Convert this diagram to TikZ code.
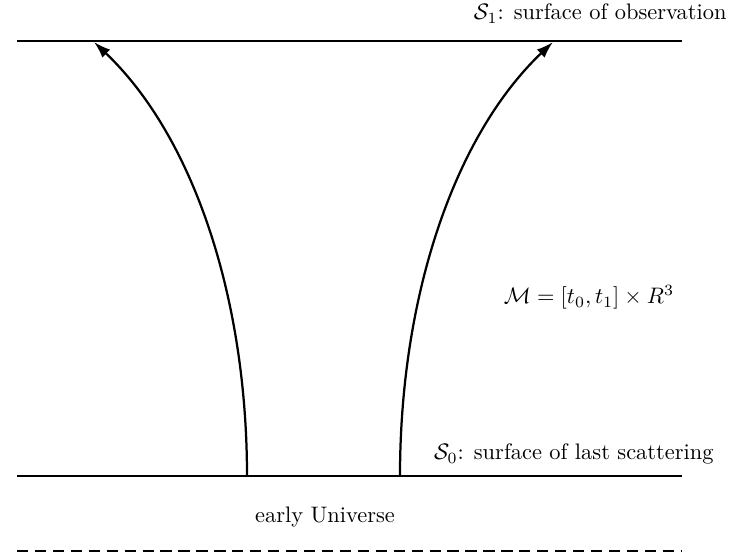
\documentclass[tikz,border=0pt]{standalone}
\usetikzlibrary{arrows.meta}
\begin{document}
\begin{tikzpicture}[x=0.446pt,y=-0.446pt,
  surface/.style={line width=1.3pt},
  ray/.style={line width=1pt,-{Latex[length=7.5pt,width=5pt]}},
  earlyline/.style={line width=1.3pt,dash pattern=on 5pt off 3pt},
  lbl/.style={inner sep=0pt}]
\useasboundingbox (0,0) rectangle (731,555);
% surfaces
\coordinate (s1l) at (17,41);
\coordinate (s1r) at (682,41);
\coordinate (s0l) at (17,476);
\coordinate (s0r) at (682,476);
\coordinate (eul) at (17,551);
\coordinate (eur) at (682,551);
\draw[surface] (s1l) -- (s1r);
\draw[surface] (s0l) -- (s0r);
\draw[earlyline] (eul) -- (eur);
% rays
\coordinate (a0) at (247,476);
\coordinate (a1) at (94,42);
\coordinate (b0) at (400,476);
\coordinate (b1) at (553,42);
\draw[ray] (a0) .. controls (247,295) and (192,135) .. (a1);
\draw[ray] (b0) .. controls (400,295) and (455,135) .. (b1);
% labels
\node[lbl,anchor=base east] (t1) at (727,20) {$\mathcal{S}_1$: surface of observation};
\node[lbl,anchor=base east] (t0) at (714,460) {$\mathcal{S}_0$: surface of last scattering};
\node[lbl,anchor=base] (m) at (589,304) {$\mathcal{M}=[t_0,t_1]\times R^3$};
\node[lbl,anchor=base] (eu) at (325,523) {early Universe};
\end{tikzpicture}
\end{document}
